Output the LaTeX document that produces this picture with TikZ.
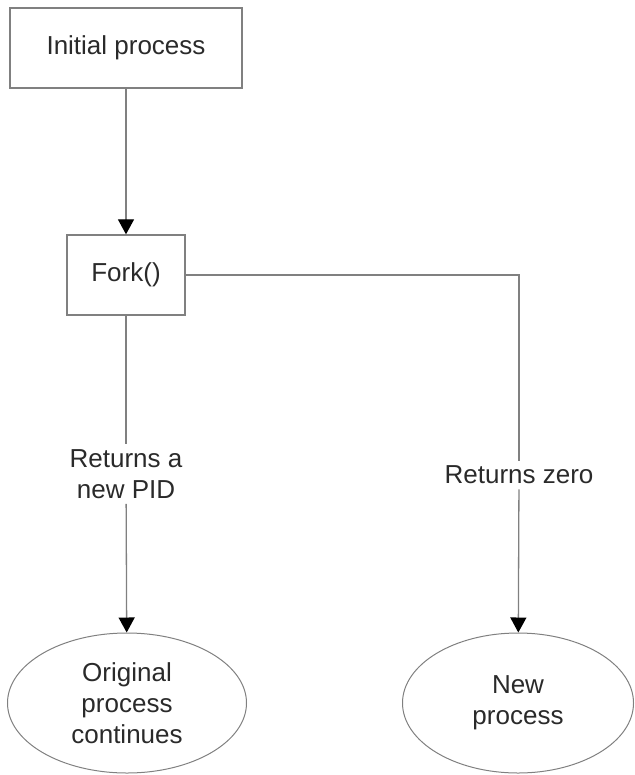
\documentclass[tikz,border=0pt]{standalone}
\usepackage{fontspec}
\setmainfont{Liberation Sans}
\usetikzlibrary{arrows.meta,shapes.geometric}
\definecolor{edgegray}{HTML}{808080}
\definecolor{textgray}{HTML}{2A2A2A}
\begin{document}
\begin{tikzpicture}[x=1pt,y=-1pt,
  every node/.style={font=\fontsize{26}{31}\selectfont, text=textgray, align=center},
  procbox/.style={draw=edgegray, line width=1.3pt, rectangle, inner sep=0pt},
  procoval/.style={draw=edgegray, line width=1pt, ellipse, inner sep=0pt},
  flow/.style={draw=edgegray, line width=1.3pt},
  flowarrow/.style={flow, -{Triangle[width=16pt,length=15pt,color=black]}},
  edgelabel/.style={inner sep=5pt}]
  \useasboundingbox (0,0) rectangle (634,775);

  % boxes
  \node[procbox, minimum width=232pt, minimum height=80pt] (init) at (126,48) {Initial process};
  \node[procbox, minimum width=118pt, minimum height=80pt] (fork) at (126,275) {Fork()};

  % end states
  \node[procoval, minimum width=239pt, minimum height=140pt] (orig) at (127,703) {Original\\process\\continues};
  \node[procoval, minimum width=231pt, minimum height=140pt] (newp) at (518,703) {New\\process};

  % branch labels
  \node[edgelabel] (pid) at (126,474) {Returns a\\new PID};
  \node[edgelabel] (zero) at (519,475) {Returns zero};
  \coordinate (corner) at (519,275);

  % connectors
  \draw[flowarrow] (init) -- (fork);
  \draw[flow] (fork) -- (pid);
  \draw[flowarrow] (pid) -- (orig);
  \draw[flow] (fork.east) -- (corner) -- (zero);
  \draw[flowarrow] (zero) -- (newp);
\end{tikzpicture}
\end{document}
